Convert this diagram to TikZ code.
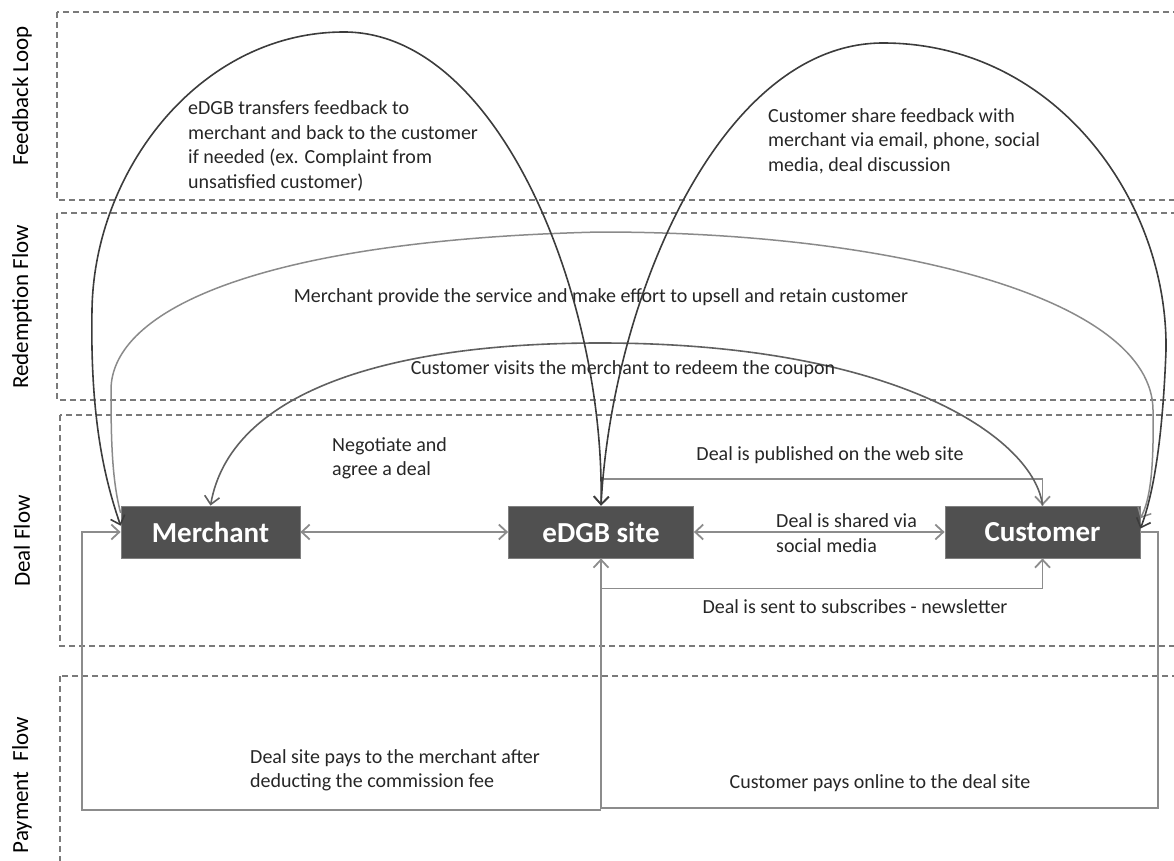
\documentclass[tikz,border=0pt]{standalone}
\usepackage{fontspec}
\setmainfont{Carlito}
\usetikzlibrary{arrows.meta}
\definecolor{boxfill}{HTML}{505050}
\definecolor{boxline}{HTML}{808080}
\definecolor{lanegray}{HTML}{7A7A7A}
\definecolor{flowgray}{HTML}{8C8C8C}
\definecolor{fbgray}{HTML}{3C3C3C}
\definecolor{redgray}{HTML}{606060}
\definecolor{provgray}{HTML}{8A8A8A}
\begin{document}
\begin{tikzpicture}[x=1pt,y=-1pt,
    >={Straight Barb[length=8pt,width=15pt]},
    lane/.style={draw=lanegray,line width=1.3pt,dash pattern=on 6pt off 4pt},
    lanelabel/.style={rotate=90,font=\fontsize{23}{26}\selectfont,inner sep=0pt},
    box/.style={fill=boxfill,draw=boxline,line width=0.8pt,text=white,
        font=\fontsize{29}{30}\selectfont\bfseries,minimum height=52pt,inner sep=0pt},
    note/.style={font=\fontsize{20}{24.4}\selectfont,text=black!85,inner sep=0pt},
    flow/.style={draw=flowgray,line width=1.8pt},
    fback/.style={draw=fbgray,line width=1.6pt},
    visit/.style={draw=redgray,line width=1.6pt},
    provide/.style={draw=provgray,line width=1.5pt}]
    \useasboundingbox (0,0) rectangle (1174,861);
    \clip (0,0) rectangle (1174,861);

    %Lanes
    \draw[lane] (57,12) rectangle (1200,200);
    \draw[lane] (57,213) rectangle (1200,400);
    \draw[lane] (60,415) rectangle (1200,646);
    \draw[lane] (60,676) rectangle (1200,900);
    \node[lanelabel] (lfeed) at (22,96) {Feedback Loop};
    \node[lanelabel] (lredeem) at (22,307) {Redemption Flow};
    \node[lanelabel] (ldeal) at (22,541) {Deal Flow};
    \node[lanelabel] (lpay) at (22,785) {Payment\ \ Flow};

    %Boxes
    \node[box,minimum width=179pt] (merch) at (210.5,532) {Merchant};
    \node[box,minimum width=185pt] (edgb) at (601,532) {eDGB site};
    \node[box,minimum width=195pt] (cust) at (1042.5,532) {Customer};

    %Deal flow
    \draw[flow,<->] (merch) -- (edgb);
    \draw[flow,<->] (edgb) -- (cust);
    \draw[flow,->] ([yshift=27pt]edgb.north) -| (cust.north);
    \draw[flow,->] ([yshift=-30pt]edgb.south) -| (cust.south);
    \node[note,align=left,anchor=west] (tneg) at (332,458) {Negotiate and\\agree a deal};
    \node[note] (tpub) at (830,455) {Deal is published on the web site};
    \node[note,align=left,anchor=west] (tshare) at (776,533) {Deal is shared via\\social media};
    \node[note] (tnews) at (855,607) {Deal is sent to subscribes - newsletter};

    %Payment flow
    \draw[flow,->] (cust.east) -| (1158,808) -| (edgb.south);
    \draw[flow,->] (edgb.south |- 0,810) -- (82,810) |- (merch.west);
    \node[note,align=left,anchor=west] (tsite) at (250,770) {Deal site pays to the merchant after\\deducting the commission fee};
    \node[note] (tcpay) at (880,783) {Customer pays online to the deal site};

    %Redemption flow
    \draw[visit,->] (cust.north) .. controls (1035,440) and (900,343) .. (600,343)
        .. controls (380,343) and (230,395) .. (merch.north);
    \draw[provide,->] (merch.168) .. controls (112,480) and (111,440) .. (111,390)
        .. controls (111,310) and (260,240) .. (600,232)
        .. controls (900,232) and (1152,300) .. (1153,410)
        .. controls (1154,470) and (1150,500) .. (cust.8);
    \node[note] (tprov) at (601,297) {Merchant provide the service and make effort to upsell and retain customer};
    \node[note] (tvisit) at (623,369) {Customer visits the merchant to redeem the coupon};

    %Feedback loop
    \draw[fback,<->] (merch.176) .. controls (105,480) and (90,420) .. (92,310)
        .. controls (94,170) and (200,32) .. (344,32)
        .. controls (500,32) and (605,300) .. (edgb.north);
    \draw[fback,<->] (edgb.north) .. controls (612,300) and (720,43) .. (883,43)
        .. controls (1055,43) and (1168,200) .. (1166,350)
        .. controls (1163,430) and (1155,490) .. (cust.2);
    \node[note,align=left,anchor=west] (tfb) at (188,146) {eDGB transfers feedback to\\merchant and back to the customer\\if needed (ex. Complaint from\\unsatisfied customer)};
    \node[note,align=left,anchor=west] (tcs) at (768,141) {Customer share feedback with\\merchant via email, phone, social\\media, deal discussion};
\end{tikzpicture}
\end{document}
